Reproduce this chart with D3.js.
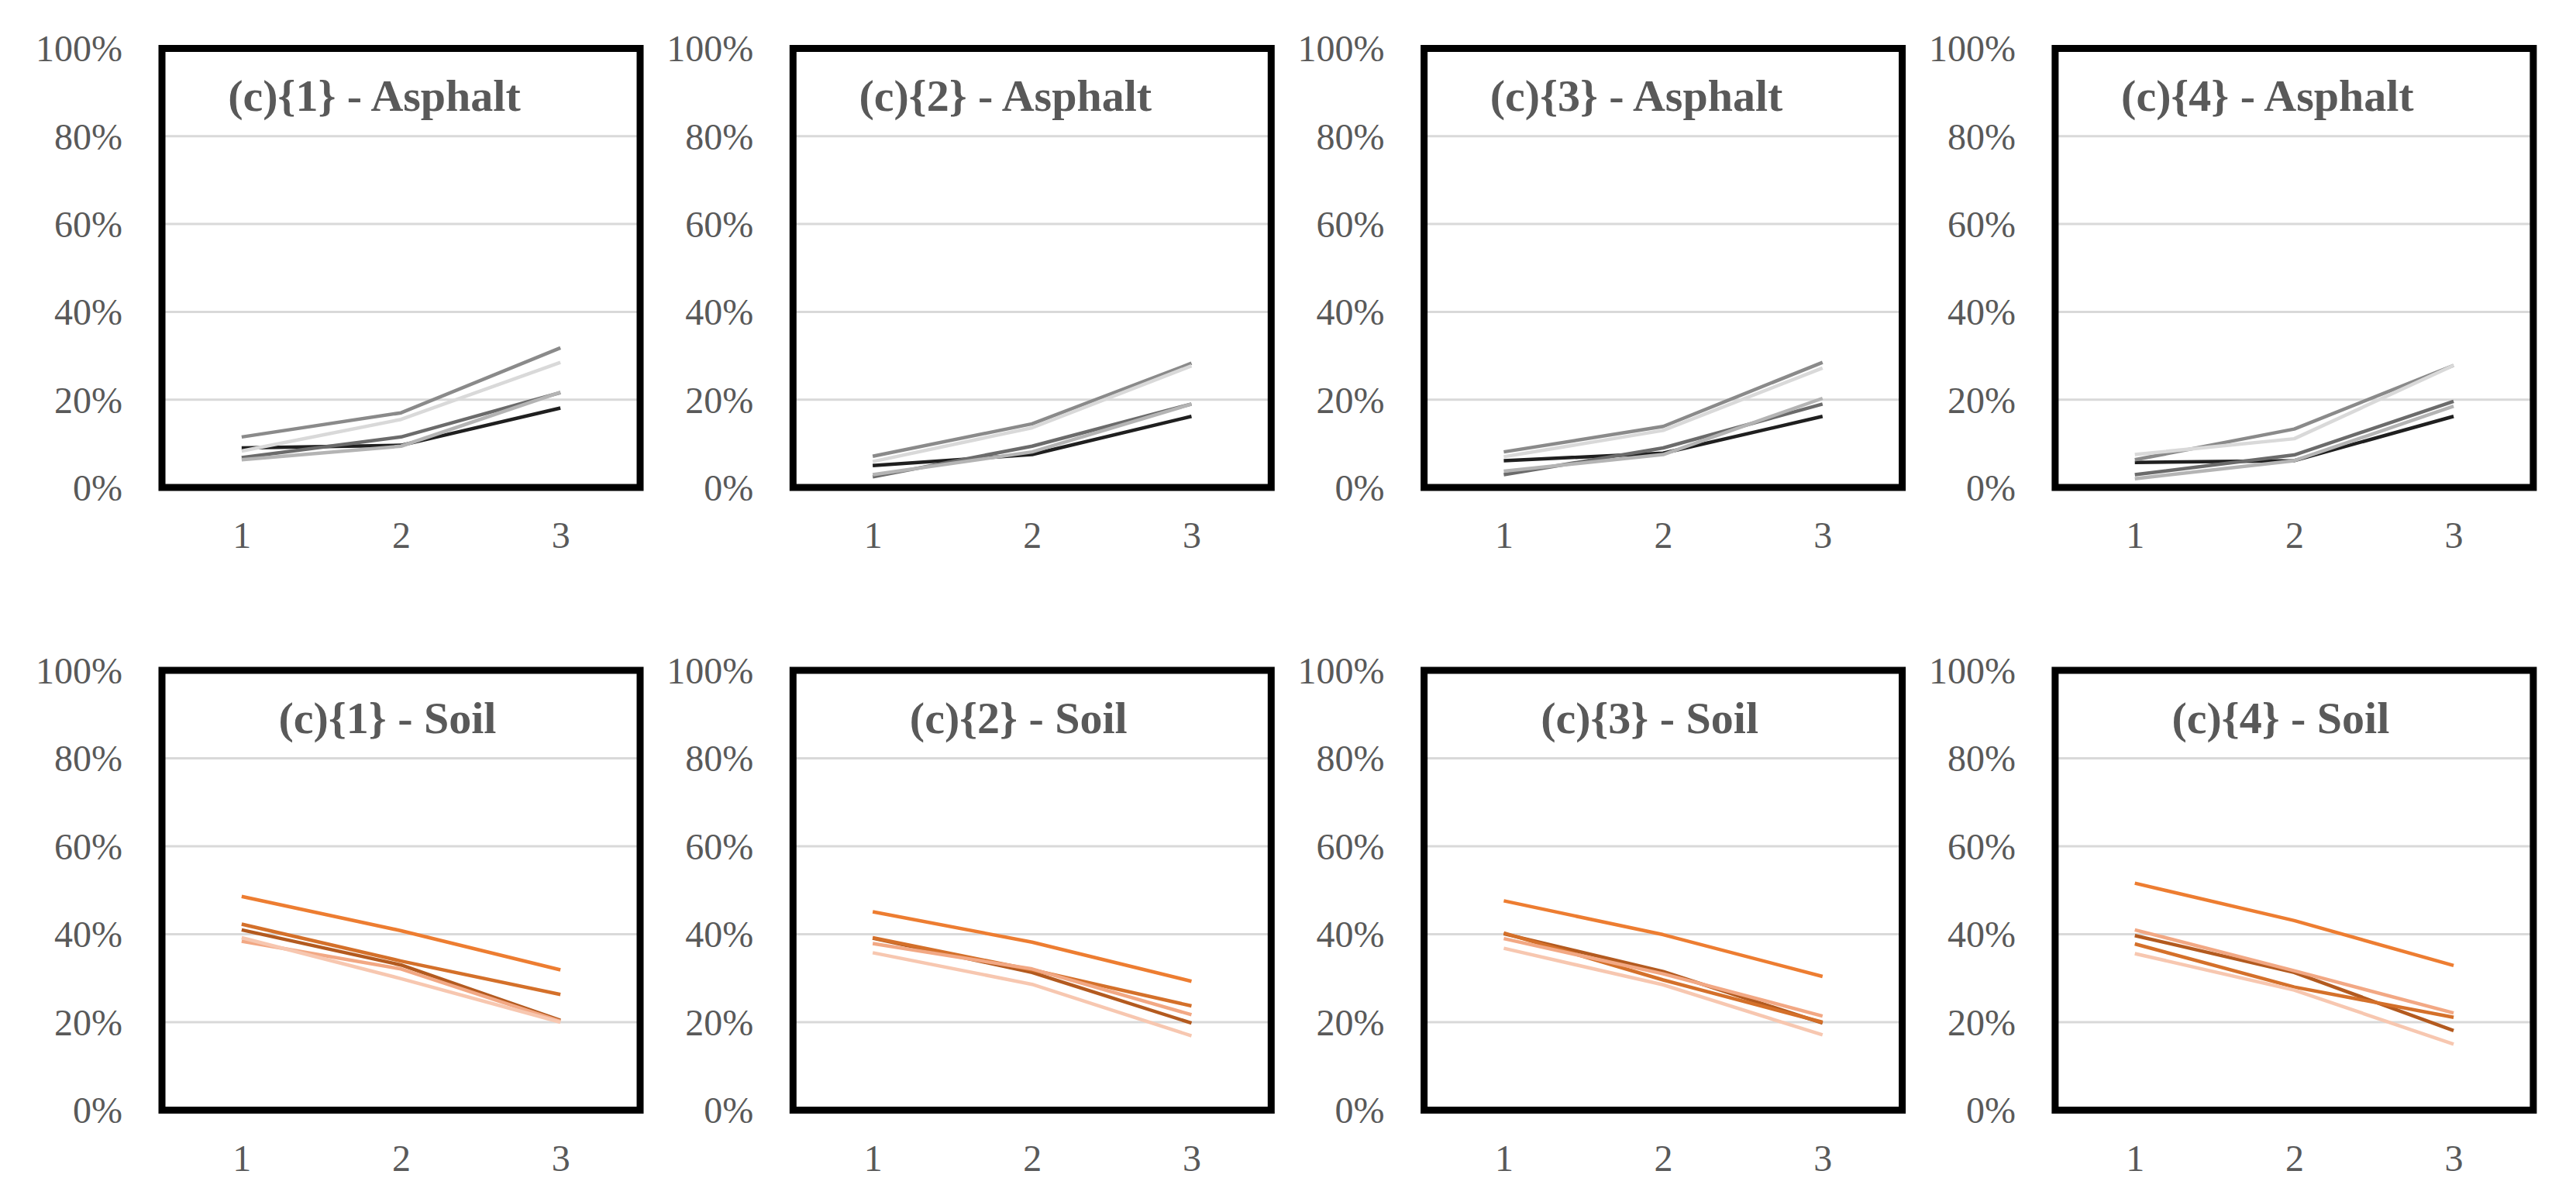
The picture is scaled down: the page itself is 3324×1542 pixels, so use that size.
<!DOCTYPE html>
<html>
<head>
<meta charset="utf-8">
<script src="https://cdn.jsdelivr.net/npm/d3@7"></script>
<style>
  body { margin: 0; background: white; }
  text { font-family: "Liberation Serif", "Times New Roman", serif; fill: #595959; }
</style>
</head>
<body>
<script>
// categories and ticks
const xCats = [1, 2, 3]
const yTicks = [0, 0.2, 0.4, 0.6, 0.8, 1]
const panelNames = ["1", "2", "3", "4"]

// series colours, darkest series first
const asphaltColors = ["#1f1f1f", "#6b6b6b", "#8a8a8a", "#b4b4b4", "#d9d9d9"]
const soilColors = ["#b35a1f", "#d4702a", "#ed7d31", "#f2a884", "#f7c7b0"]

// asphalt values, one array per panel, 5 series each
const asphalt1 = [[0.090, 0.096, 0.181], [0.068, 0.115, 0.216], [0.115, 0.170, 0.318], [0.063, 0.094, 0.217], [0.083, 0.155, 0.285]]
const asphalt2 = [[0.050, 0.075, 0.162], [0.024, 0.094, 0.190], [0.071, 0.145, 0.283], [0.029, 0.081, 0.190], [0.059, 0.136, 0.277]]
const asphalt3 = [[0.061, 0.078, 0.162], [0.029, 0.090, 0.190], [0.081, 0.139, 0.285], [0.037, 0.075, 0.203], [0.070, 0.130, 0.272]]
const asphalt4 = [[0.057, 0.061, 0.162], [0.029, 0.074, 0.196], [0.063, 0.133, 0.278], [0.020, 0.061, 0.185], [0.075, 0.111, 0.278]]

// soil values
const soil1 = [[0.410, 0.330, 0.204], [0.423, 0.339, 0.263], [0.486, 0.408, 0.319], [0.384, 0.321, 0.202], [0.392, 0.299, 0.200]]
const soil2 = [[0.391, 0.313, 0.198], [0.392, 0.319, 0.237], [0.451, 0.382, 0.293], [0.379, 0.321, 0.217], [0.358, 0.286, 0.169]]
const soil3 = [[0.401, 0.315, 0.198], [0.403, 0.296, 0.200], [0.476, 0.399, 0.304], [0.390, 0.310, 0.214], [0.368, 0.285, 0.171]]
const soil4 = [[0.397, 0.313, 0.181], [0.378, 0.280, 0.211], [0.516, 0.431, 0.329], [0.410, 0.317, 0.221], [0.356, 0.273, 0.150]]

const asphaltData = [asphalt1, asphalt2, asphalt3, asphalt4]
const soilData = [soil1, soil2, soil3, soil4]

const svg = d3.select("body")
  .append("svg")
    .attr("width", 3324)
    .attr("height", 1542)

svg.append("rect")
    .attr("width", 3324)
    .attr("height", 1542)
    .attr("fill", "white")

const rows = [
  {top: 62.5, bottom: 629, name: "Asphalt", data: asphaltData, colors: asphaltColors, titleDx: 274, titleDy: 80},
  {top: 865, bottom: 1432.5, name: "Soil", data: soilData, colors: soilColors, titleDx: 291, titleDy: 81}
]

const panelW = 617

rows.forEach(row => {
  for (let i = 0; i < 4; i++) {
    let left = 209 + i * 814.3
    let g = svg.append("g")

    let x = d3.scalePoint().domain(xCats).range([left, left + panelW]).padding(0.5)
    let y = d3.scaleLinear().domain([0, 1]).range([row.bottom, row.top])

    // gridlines
    g.append("g")
      .selectAll("line")
      .data(yTicks.slice(1, -1))
      .join("line")
        .attr("x1", left)
        .attr("x2", left + panelW)
        .attr("y1", d => y(d))
        .attr("y2", d => y(d))
        .attr("stroke", "#d9d9d9")
        .attr("stroke-width", 3)

    // y axis labels
    let yAxis = g.append("g")
        .attr("transform", `translate(${left - 51},0)`)
        .call(d3.axisLeft(y).tickValues(yTicks).tickFormat(d3.format(".0%")).tickSize(0).tickPadding(0))
    yAxis.select(".domain").remove()
    yAxis.selectAll("text")
        .attr("font-size", 48)
        .attr("font-family", null)
        .attr("fill", null)
        .attr("dy", "0.34em")

    // x axis labels
    let xAxis = g.append("g")
        .attr("transform", `translate(0,${row.bottom + 78})`)
        .call(d3.axisBottom(x).tickSize(0).tickPadding(0))
    xAxis.select(".domain").remove()
    xAxis.selectAll("text")
        .attr("font-size", 48)
        .attr("font-family", null)
        .attr("fill", null)
        .attr("dy", 0)

    // series lines
    let line = d3.line()
        .x((d, j) => x(xCats[j]))
        .y(d => y(d))

    g.append("g")
      .selectAll("path")
      .data(row.data[i])
      .join("path")
        .attr("d", d => line(d))
        .attr("fill", "none")
        .attr("stroke", (d, k) => row.colors[k])
        .attr("stroke-width", 4.5)
        .attr("stroke-linejoin", "round")

    // frame
    g.append("rect")
        .attr("x", left)
        .attr("y", row.top)
        .attr("width", panelW)
        .attr("height", row.bottom - row.top)
        .attr("fill", "none")
        .attr("stroke", "black")
        .attr("stroke-width", 9)

    // title
    g.append("text")
        .attr("x", left + row.titleDx)
        .attr("y", row.top + row.titleDy)
        .attr("text-anchor", "middle")
        .attr("font-size", 58)
        .attr("font-weight", "bold")
        .text(`(c){${panelNames[i]}} - ${row.name}`)
  }
})
</script>
</body>
</html>
